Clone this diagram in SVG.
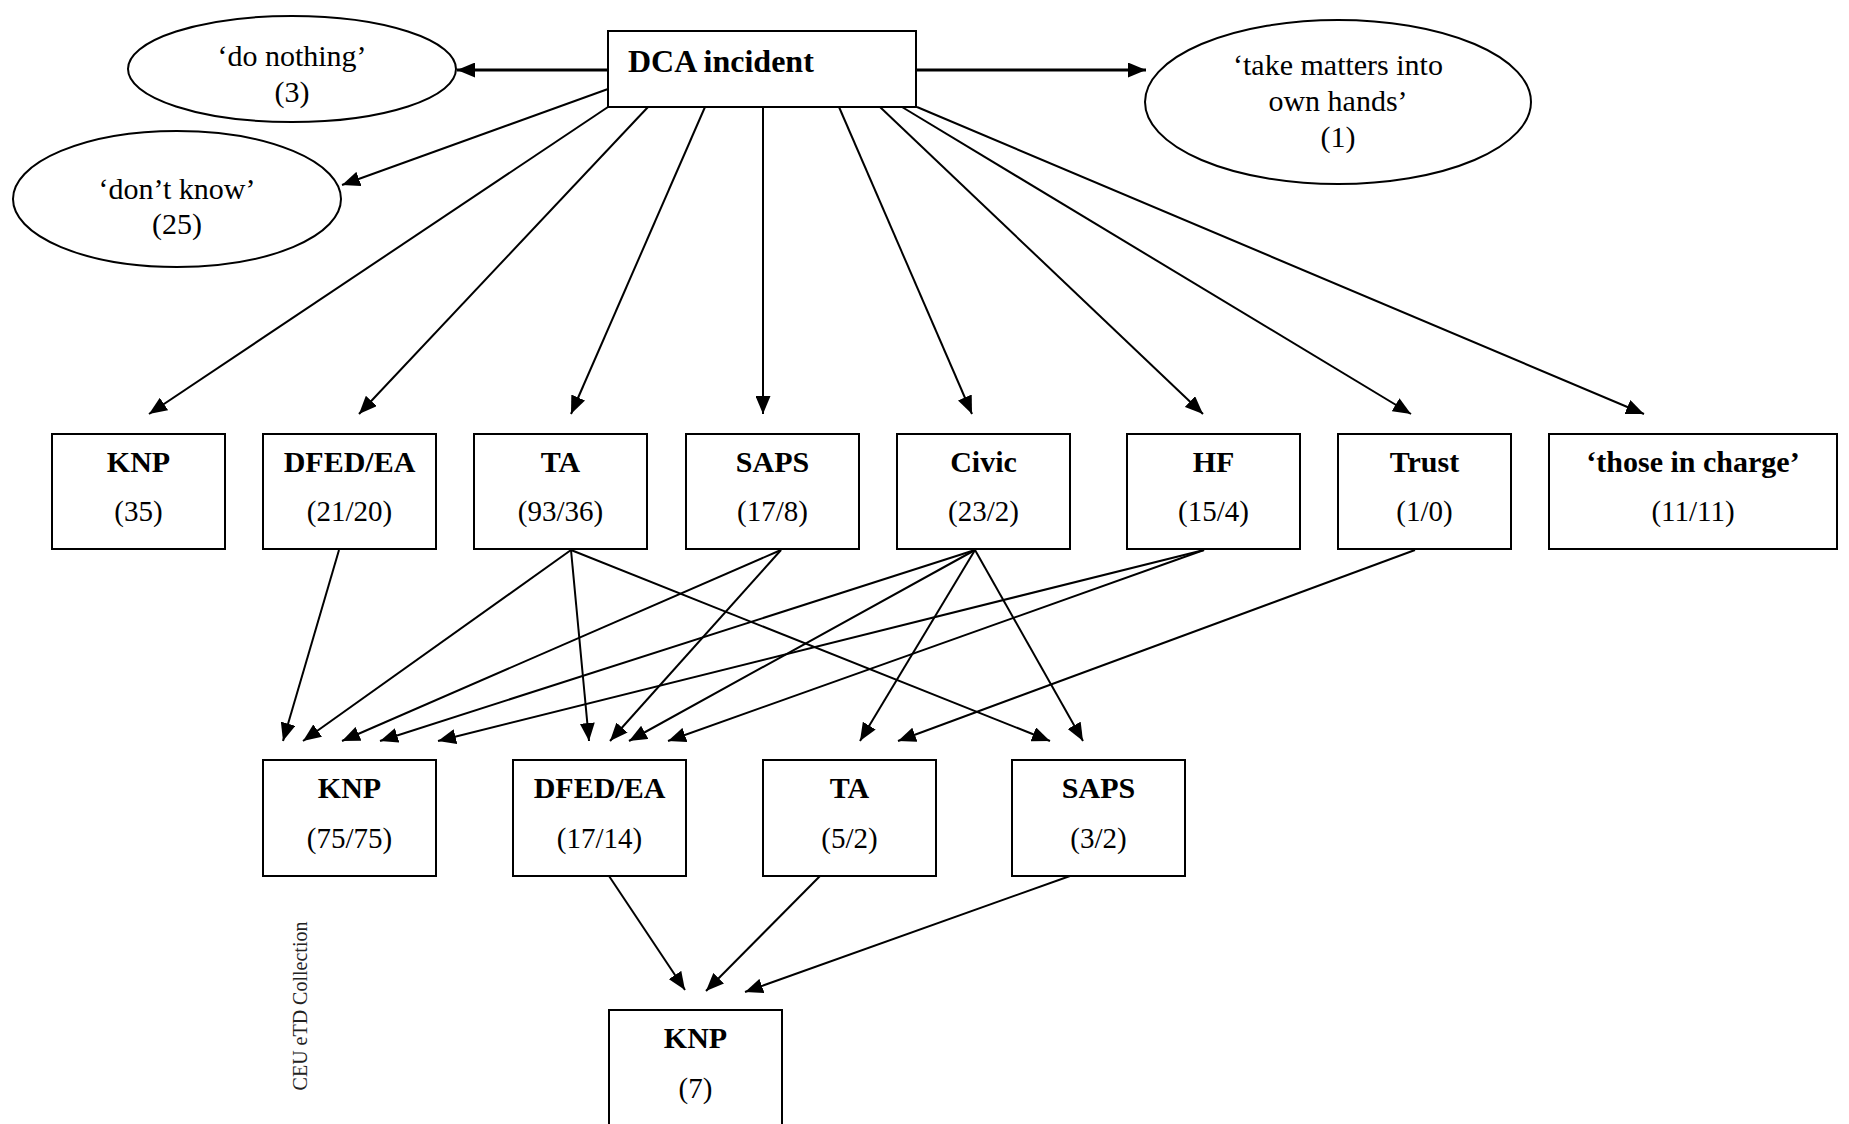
<svg xmlns="http://www.w3.org/2000/svg" width="1849" height="1124" viewBox="0 0 1849 1124">
  <defs>
    <marker id="arrow" markerUnits="userSpaceOnUse" markerWidth="18" markerHeight="15" refX="18" refY="7.5" orient="auto">
      <path d="M0,0 L18,7.5 L0,15 Z" fill="#000"/>
    </marker>
    <style>
      .box { fill: #fff; stroke: #000; stroke-width: 2; }
      .oval { fill: #fff; stroke: #000; stroke-width: 2; }
      .lbl { font-family: "Liberation Serif", "Times New Roman", serif; font-size: 30px; font-weight: bold; text-anchor: middle; fill: #000; }
      .num { font-family: "Liberation Serif", "Times New Roman", serif; font-size: 29px; text-anchor: middle; fill: #000; }
      .otext { font-family: "Liberation Serif", "Times New Roman", serif; font-size: 30px; text-anchor: middle; fill: #000; }
      .edge { stroke: #000; stroke-width: 2; fill: none; marker-end: url(#arrow); }
      .edge.thick { stroke-width: 3; }
      .mark { font-family: "Liberation Serif", "Times New Roman", serif; font-size: 20px; fill: #222; text-anchor: middle; }
    </style>
  </defs>
  <rect width="1849" height="1124" fill="#fff"/>

  <!-- connectors -->
  <g id="connectors">
    <!-- from the incident -->
    <line class="edge thick" x1="608" y1="70" x2="457" y2="70"/>
    <line class="edge thick" x1="916" y1="70" x2="1146" y2="70"/>
    <line class="edge" x1="608" y1="89" x2="342" y2="185"/>
    <line class="edge" x1="608" y1="107" x2="149" y2="414"/>
    <line class="edge" x1="648" y1="107" x2="359" y2="414"/>
    <line class="edge" x1="705" y1="107" x2="571" y2="414"/>
    <line class="edge" x1="763" y1="107" x2="763" y2="414"/>
    <line class="edge" x1="839" y1="107" x2="972" y2="414"/>
    <line class="edge" x1="880" y1="107" x2="1203" y2="414"/>
    <line class="edge" x1="902" y1="107" x2="1411" y2="414"/>
    <line class="edge" x1="917" y1="107" x2="1644" y2="414"/>
    <!-- first referral to second referral -->
    <line class="edge" x1="339" y1="550" x2="283" y2="741"/>
    <line class="edge" x1="571" y1="550" x2="303" y2="741"/>
    <line class="edge" x1="571" y1="550" x2="589" y2="741"/>
    <line class="edge" x1="571" y1="550" x2="1050" y2="741"/>
    <line class="edge" x1="781" y1="550" x2="342" y2="741"/>
    <line class="edge" x1="781" y1="550" x2="610" y2="741"/>
    <line class="edge" x1="975" y1="550" x2="380" y2="741"/>
    <line class="edge" x1="975" y1="550" x2="629" y2="741"/>
    <line class="edge" x1="975" y1="550" x2="860" y2="741"/>
    <line class="edge" x1="975" y1="550" x2="1083" y2="741"/>
    <line class="edge" x1="1204" y1="550" x2="438" y2="741"/>
    <line class="edge" x1="1204" y1="550" x2="668" y2="741"/>
    <line class="edge" x1="1415" y1="550" x2="898" y2="741"/>
    <!-- second referral to third -->
    <line class="edge" x1="609" y1="876" x2="685" y2="990"/>
    <line class="edge" x1="820" y1="876" x2="706" y2="991"/>
    <line class="edge" x1="1070" y1="876" x2="745" y2="992"/>
  </g>

  <!-- incident -->
  <g id="dca-incident">
    <rect class="box" x="608" y="31" width="308" height="76"/>
    <text x="628" y="72" font-family="Liberation Serif, Times New Roman, serif" font-size="32" font-weight="bold">DCA incident</text>
  </g>

  <!-- non-referral responses -->
  <g id="do-nothing">
    <ellipse class="oval" cx="292" cy="69" rx="164" ry="53"/>
    <text class="otext" x="292" y="66">‘do nothing’</text>
    <text class="otext" x="292" y="102">(3)</text>
  </g>
  <g id="dont-know">
    <ellipse class="oval" cx="177" cy="199" rx="164" ry="68"/>
    <text class="otext" x="177" y="199">‘don’t know’</text>
    <text class="otext" x="177" y="234">(25)</text>
  </g>
  <g id="own-hands">
    <ellipse class="oval" cx="1338" cy="102" rx="193" ry="82"/>
    <text class="otext" x="1338" y="75">‘take matters into</text>
    <text class="otext" x="1338" y="111">own hands’</text>
    <text class="otext" x="1338" y="147">(1)</text>
  </g>

  <!-- first referral -->
  <g id="knp-1">
    <rect class="box" x="52" y="434" width="173" height="115"/>
    <text class="lbl" x="138.5" y="472">KNP</text>
    <text class="num" x="138.5" y="521">(35)</text>
  </g>
  <g id="dfed-1">
    <rect class="box" x="263" y="434" width="173" height="115"/>
    <text class="lbl" x="349.5" y="472">DFED/EA</text>
    <text class="num" x="349.5" y="521">(21/20)</text>
  </g>
  <g id="ta-1">
    <rect class="box" x="474" y="434" width="173" height="115"/>
    <text class="lbl" x="560.5" y="472">TA</text>
    <text class="num" x="560.5" y="521">(93/36)</text>
  </g>
  <g id="saps-1">
    <rect class="box" x="686" y="434" width="173" height="115"/>
    <text class="lbl" x="772.5" y="472">SAPS</text>
    <text class="num" x="772.5" y="521">(17/8)</text>
  </g>
  <g id="civic-1">
    <rect class="box" x="897" y="434" width="173" height="115"/>
    <text class="lbl" x="983.5" y="472">Civic</text>
    <text class="num" x="983.5" y="521">(23/2)</text>
  </g>
  <g id="hf-1">
    <rect class="box" x="1127" y="434" width="173" height="115"/>
    <text class="lbl" x="1213.5" y="472">HF</text>
    <text class="num" x="1213.5" y="521">(15/4)</text>
  </g>
  <g id="trust-1">
    <rect class="box" x="1338" y="434" width="173" height="115"/>
    <text class="lbl" x="1424.5" y="472">Trust</text>
    <text class="num" x="1424.5" y="521">(1/0)</text>
  </g>
  <g id="in-charge-1">
    <rect class="box" x="1549" y="434" width="288" height="115"/>
    <text class="lbl" x="1693" y="472">‘those in charge’</text>
    <text class="num" x="1693" y="521">(11/11)</text>
  </g>

  <!-- second referral -->
  <g id="knp-2">
    <rect class="box" x="263" y="760" width="173" height="116"/>
    <text class="lbl" x="349.5" y="798">KNP</text>
    <text class="num" x="349.5" y="848">(75/75)</text>
  </g>
  <g id="dfed-2">
    <rect class="box" x="513" y="760" width="173" height="116"/>
    <text class="lbl" x="599.5" y="798">DFED/EA</text>
    <text class="num" x="599.5" y="848">(17/14)</text>
  </g>
  <g id="ta-2">
    <rect class="box" x="763" y="760" width="173" height="116"/>
    <text class="lbl" x="849.5" y="798">TA</text>
    <text class="num" x="849.5" y="848">(5/2)</text>
  </g>
  <g id="saps-2">
    <rect class="box" x="1012" y="760" width="173" height="116"/>
    <text class="lbl" x="1098.5" y="798">SAPS</text>
    <text class="num" x="1098.5" y="848">(3/2)</text>
  </g>

  <!-- third referral -->
  <g id="knp-3">
    <rect class="box" x="609" y="1010" width="173" height="120"/>
    <text class="lbl" x="695.5" y="1048">KNP</text>
    <text class="num" x="695.5" y="1098">(7)</text>
  </g>

  <text class="mark" transform="translate(307,1006) rotate(-90)">CEU eTD Collection</text>
</svg>
